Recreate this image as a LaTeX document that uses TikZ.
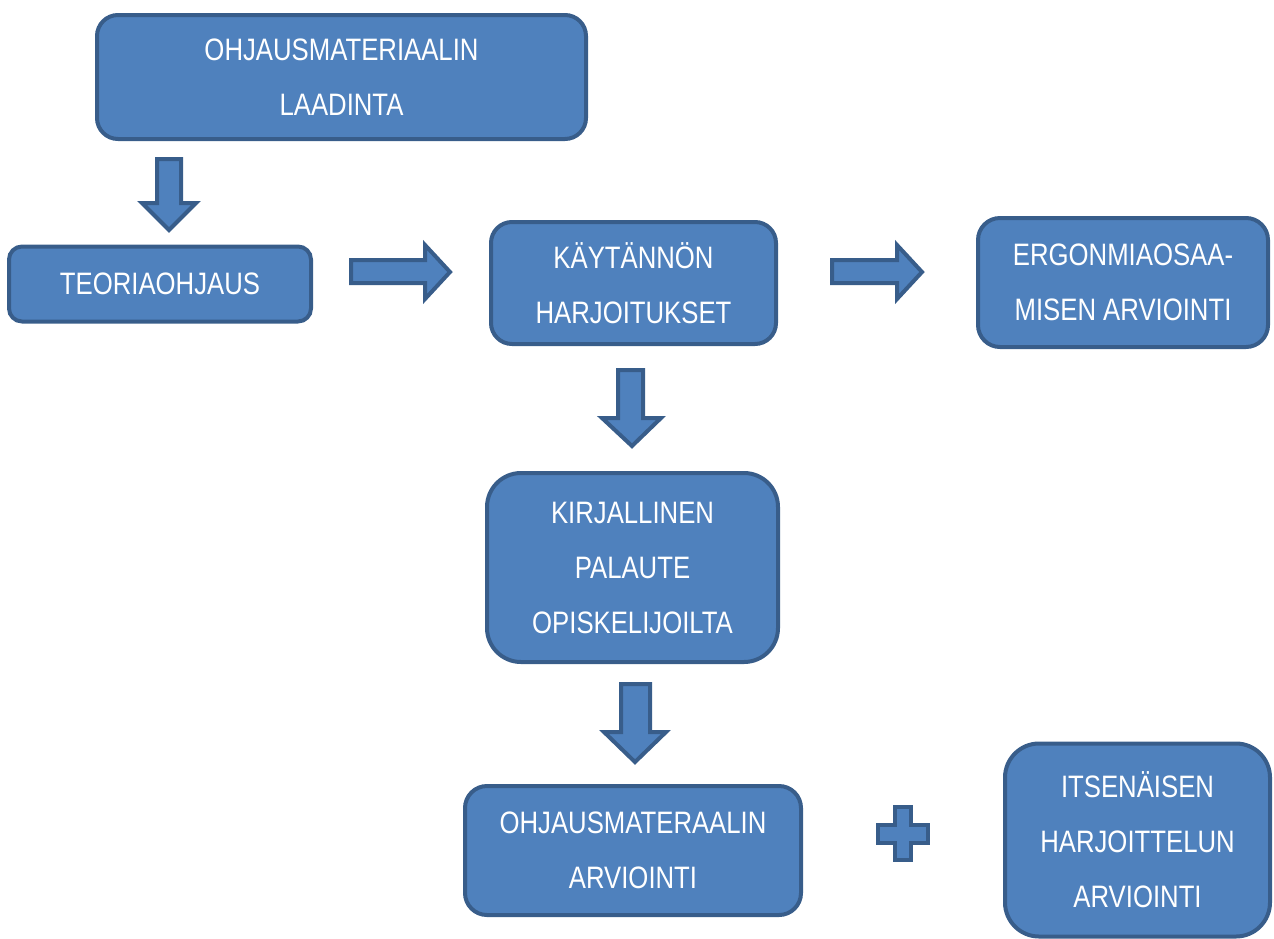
\documentclass[tikz,border=0pt]{standalone}
\usepackage{fontspec}
\setmainfont[FakeStretch=0.83]{Liberation Sans}
\definecolor{boxfill}{HTML}{4F81BD}
\definecolor{boxline}{HTML}{385D8A}
\begin{document}
\begin{tikzpicture}[x=1pt,y=-1pt,
  box/.style={draw=boxline,fill=boxfill,line width=4pt,text=white,align=center,
    inner sep=0pt,font=\fontsize{31}{55}\selectfont},
  blk/.style={draw=boxline,fill=boxfill,line width=4pt,line join=miter}]
\useasboundingbox (0,0) rectangle (1274,938);
\clip (0,0) rectangle (1274,938);
\node[box,rounded corners=21pt,minimum width=489pt,minimum height=124pt] (laadinta) at (341.5,77) {OHJAUSMATERIAALIN\\LAADINTA};
\node[box,rounded corners=13pt,minimum width=302pt,minimum height=75pt] (teoria) at (160,284) {TEORIAOHJAUS};
\node[box,rounded corners=21pt,minimum width=285pt,minimum height=122pt] (kaytanto) at (633.5,283) {KÄYTÄNNÖN\\HARJOITUKSET};
\node[box,rounded corners=22pt,minimum width=290pt,minimum height=129pt] (ergo) at (1123,282.5) {ERGONMIAOSAA-\\MISEN ARVIOINTI};
\node[box,rounded corners=34pt,minimum width=291pt,minimum height=189pt] (palaute) at (632.5,567.5) {KIRJALLINEN\\PALAUTE\\OPISKELIJOILTA};
\node[box,rounded corners=22pt,minimum width=336pt,minimum height=129pt] (ohjarv) at (633,850.5) {OHJAUSMATERAALIN\\ARVIOINTI};
\node[box,rounded corners=34pt,minimum width=265pt,minimum height=193pt] (itsen) at (1137.5,840) {ITSENÄISEN\\HARJOITTELUN\\ARVIOINTI};
% block arrows
\draw[blk] (157,159) -- (181,159) -- (181,203) -- (196,203) -- (169,230) -- (142,203) -- (157,203) -- cycle;
\draw[blk] (351,260) -- (425,260) -- (425,245) -- (450,272) -- (425,299) -- (425,283) -- (351,283) -- cycle;
\draw[blk] (832,260) -- (897,260) -- (897,245) -- (922,272) -- (897,299) -- (897,283) -- (832,283) -- cycle;
\draw[blk] (618,370) -- (643,370) -- (643,418) -- (661,418) -- (632,446) -- (602,418) -- (618,418) -- cycle;
\draw[blk] (621,684) -- (650,684) -- (650,732) -- (666,732) -- (635,762) -- (604,732) -- (621,732) -- cycle;
% plus sign
\draw[blk] (895,807) -- (911,807) -- (911,825) -- (928,825) -- (928,843) -- (911,843) -- (911,860) -- (895,860) -- (895,843) -- (878,843) -- (878,825) -- (895,825) -- cycle;
\end{tikzpicture}
\end{document}
